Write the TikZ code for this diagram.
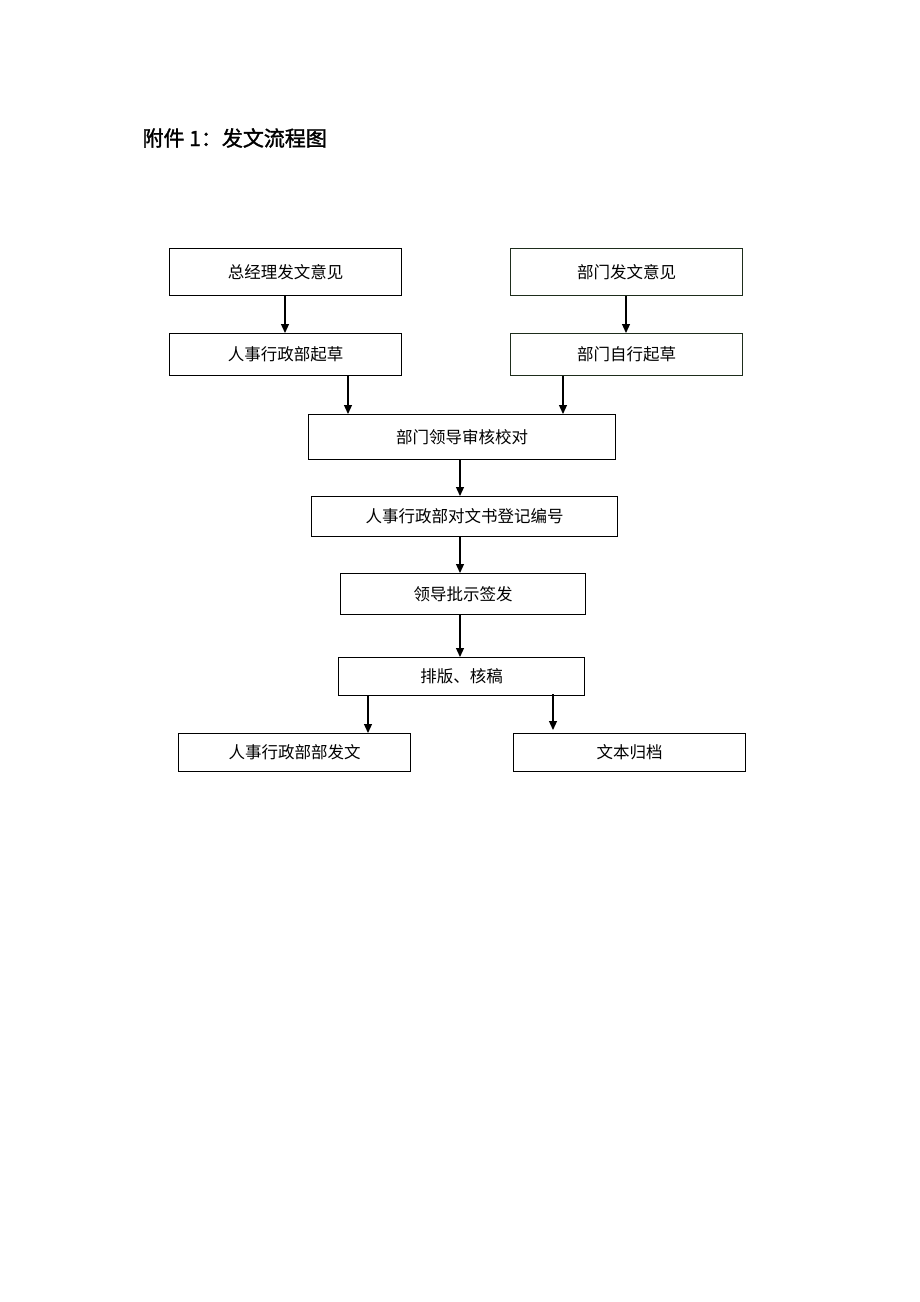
\documentclass[tikz,border=0pt]{standalone}
\usepackage{fontspec}
\newfontfamily\cjk{Noto Sans CJK SC}
\newfontfamily\cjkb{Noto Sans CJK SC}[FakeBold=1.5]
\usetikzlibrary{arrows.meta}
\definecolor{greenedge}{RGB}{30,45,28}
\begin{document}
\begin{tikzpicture}[x=1pt,y=-1pt,
  box/.style={draw=black,line width=1.2pt,inner sep=0pt,anchor=north west,font=\cjk\fontsize{16.5}{18}\selectfont},
  gbox/.style={box,draw=greenedge},
  arr/.style={-{Triangle[length=9pt,width=8pt]},line width=1.2pt}]
\useasboundingbox (0,0) rectangle (920,1302);
\node[anchor=west,font=\cjkb\fontsize{21}{23}\selectfont] (title) at (139,138) {附件 1：发文流程图};
\node[box,minimum width=232pt,minimum height=47pt] (a) at (169,248) {总经理发文意见};
\node[gbox,minimum width=232pt,minimum height=47pt] (b) at (510,248) {部门发文意见};
\node[box,minimum width=232pt,minimum height=42pt] (c) at (169,333) {人事行政部起草};
\node[gbox,minimum width=232pt,minimum height=42pt] (d) at (510,333) {部门自行起草};
\node[box,minimum width=307pt,minimum height=45pt] (e) at (308,414) {部门领导审核校对};
\node[box,minimum width=306pt,minimum height=40pt] (f) at (311,496) {人事行政部对文书登记编号};
\node[box,minimum width=245pt,minimum height=41pt] (g) at (340,573) {领导批示签发};
\node[box,minimum width=246pt,minimum height=38pt] (h) at (338,657) {排版、核稿};
\node[box,minimum width=232pt,minimum height=38pt] (i) at (178,733) {人事行政部部发文};
\node[box,minimum width=232pt,minimum height=38pt] (j) at (513,733) {文本归档};
\draw[arr] (a.south -| 285,0) -- (c.north -| 285,0);
\draw[arr] (b.south -| 626,0) -- (d.north -| 626,0);
\draw[arr] (c.south -| 348,0) -- (e.north -| 348,0);
\draw[arr] (d.south -| 563,0) -- (e.north -| 563,0);
\draw[arr] (e.south -| 460,0) -- (f.north -| 460,0);
\draw[arr] (f.south -| 460,0) -- (g.north -| 460,0);
\draw[arr] (g.south -| 460,0) -- (h.north -| 460,0);
\draw[arr] (h.south -| 368,0) -- (i.north -| 368,0);
\draw[arr] ([yshift=2pt]h.south -| 553,0) -- ([yshift=3pt]j.north -| 553,0);
\end{tikzpicture}
\end{document}
